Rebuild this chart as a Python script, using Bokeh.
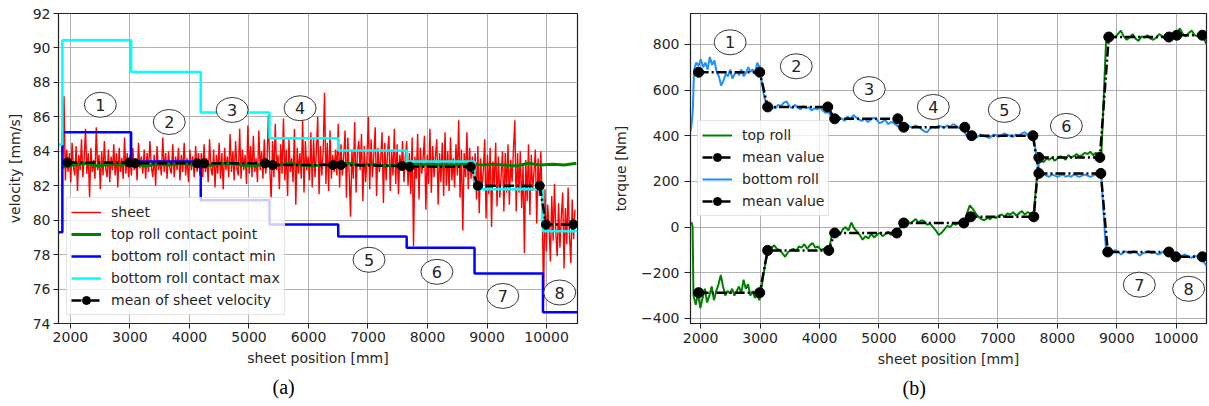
import numpy as np
from bokeh.plotting import figure
from bokeh.models import (ColumnDataSource, Range1d, FixedTicker, Legend,
                          LegendItem, Title)
from bokeh.layouts import row
from bokeh.embed import file_html
from bokeh.resources import INLINE
from bokeh.core.properties import value

FONT = "DejaVu Sans"
TXT = "#262626"

# ---------------- (a) velocity data ----------------
sheet_edges = [1870, 3000, 4200, 5350, 6500, 7650, 8800, 9950, 10500]
sheet_seg1 = [83.0, 87.2, 82.3, 84.1, 82.8, 83.9, 82.2, 84.5, 83.1, 82.6, 84.3, 81.7, 83.8, 82.9, 84.7, 82.5,
              83.6, 85.3, 82.7, 83.9, 81.3, 84.2, 82.8, 83.5, 82.4, 85.4, 82.9, 83.8, 81.8, 84.0, 82.6, 84.6,
              83.0, 82.5, 84.1, 82.2, 83.7, 82.9, 84.4, 82.6, 83.9, 81.9, 84.2, 82.8, 83.6, 82.4, 84.8, 82.7,
              83.9, 82.5]
sheet_seg2 = [83.8, 82.6, 84.2, 82.9, 83.6, 82.3, 84.5, 83.0, 83.7, 82.7, 84.1, 82.4, 83.9, 82.8, 84.6, 83.1,
              82.5, 83.8, 82.0, 84.3, 82.9, 83.5, 82.6, 84.8, 82.8, 83.9, 82.4, 84.0, 83.0, 82.7, 84.4, 82.5,
              83.7, 82.9, 84.2, 82.3, 83.8, 82.8, 84.5, 82.6, 83.6, 82.2, 84.1, 82.9, 83.7, 82.5, 84.3, 82.8,
              83.9, 82.6]
sheet_seg3 = [83.9, 82.5, 84.4, 82.8, 83.6, 82.2, 84.7, 83.0, 82.6, 84.1, 81.9, 83.8, 82.7, 84.5, 82.4, 83.9,
              81.8, 84.2, 82.9, 83.7, 82.5, 85.0, 82.8, 84.0, 82.3, 84.6, 83.0, 82.6, 85.3, 82.4, 84.1, 82.9,
              83.8, 82.1, 85.5, 82.7, 84.3, 82.5, 84.9, 82.8, 83.6, 82.2, 85.2, 82.9, 84.0, 82.4, 84.7, 82.7,
              83.5, 86.1]
sheet_seg4 = [83.0, 81.2, 84.6, 82.5, 85.6, 82.9, 83.8, 81.8, 84.4, 82.7, 85.9, 82.3, 84.1, 81.4, 84.7, 82.8,
              83.6, 82.2, 85.3, 80.9, 84.2, 82.7, 83.9, 82.4, 85.8, 81.6, 84.6, 82.9, 83.7, 82.3, 85.1, 81.9,
              84.8, 82.5, 83.9, 86.0, 81.5, 84.3, 82.6, 84.0, 87.4, 82.1, 84.5, 81.7, 85.2, 82.4, 83.8, 82.8,
              84.1, 82.6]
sheet_seg5 = [85.6, 81.9, 84.4, 82.6, 83.7, 85.2, 81.3, 84.8, 82.7, 80.2, 84.1, 82.4, 85.7, 81.6, 83.9, 84.6,
              82.9, 85.0, 81.1, 84.3, 82.2, 83.6, 86.0, 81.8, 84.7, 82.5, 83.8, 85.4, 81.4, 84.2, 82.8, 83.5,
              85.1, 81.0, 84.5, 82.3, 83.9, 84.9, 81.7, 84.0, 82.6, 85.3, 82.1, 84.4, 81.5, 83.8, 82.9, 84.6,
              82.2, 83.7]
sheet_seg6 = [84.6, 82.0, 83.9, 81.5, 84.8, 78.5, 83.7, 82.4, 85.0, 81.2, 84.2, 82.7, 83.6, 84.9, 80.6, 83.8,
              82.1, 85.3, 81.6, 84.3, 82.5, 83.7, 84.7, 80.9, 83.9, 82.2, 84.5, 81.4, 85.1, 82.0, 84.0, 81.7,
              84.8, 82.3, 83.6, 81.9, 84.4, 82.6, 85.8, 81.3, 84.1, 79.4, 83.9, 82.5, 85.1, 81.8, 84.2, 82.4,
              83.7, 82.1]
sheet_seg7 = [83.9, 81.2, 84.3, 80.4, 83.6, 81.8, 82.9, 84.7, 80.1, 83.8, 81.5, 84.2, 79.6, 83.4, 82.0, 84.5,
              80.8, 83.7, 81.3, 82.6, 84.0, 80.5, 83.9, 81.6, 84.4, 80.9, 83.5, 82.2, 84.1, 85.8, 80.5, 83.9,
              81.6, 84.0, 80.7, 83.2, 78.1, 83.5, 81.1, 84.4, 80.3, 83.8, 81.7, 82.8, 84.1, 79.8, 83.6, 81.4,
              84.0, 80.9]
sheet_seg8 = [75.3, 81.8, 78.2, 80.9, 79.6, 77.6, 81.4, 78.8, 82.1, 79.3, 77.9, 81.0, 78.4, 80.2, 81.6, 77.2,
              80.7, 78.6, 81.9, 79.1, 77.5, 81.2, 78.9, 80.6]
sheet_segments = [sheet_seg1, sheet_seg2, sheet_seg3, sheet_seg4, sheet_seg5, sheet_seg6, sheet_seg7, sheet_seg8]

top_roll_v = [83.05, 83.2, 83.3, 83.15, 83.25, 83.2, 83.3, 83.15, 83.25, 83.2, 83.3, 83.2, 83.15, 83.25,
              83.3, 83.2, 83.15, 83.25, 83.2, 83.3, 83.2, 83.15, 83.25, 83.2, 83.3, 83.2, 83.25, 83.15,
              83.2, 83.3, 83.2, 83.25, 83.15, 83.2, 83.3, 83.2, 83.25, 83.2, 83.15, 83.3, 83.2, 83.25,
              83.2, 83.3]

step_edges_a = [1800, 1865, 3020, 4190, 5345, 6500, 7650, 8790, 9940, 10520]
bottom_min_levels = [79.3, 85.1, 83.4, 81.15, 79.75, 79.05, 78.4, 76.9, 74.65]
bottom_max_levels = [84.4, 90.45, 88.6, 86.25, 84.75, 84.05, 83.4, 81.8, 79.35]

mean_sheet_x = [1950, 2990, 3090, 4130, 4248, 5272, 5400, 6413, 6547, 7570, 7700, 8728, 8846, 9886, 9990, 10450]
mean_sheet_y = [83.35, 83.35, 83.3, 83.3, 83.3, 83.3, 83.2, 83.2, 83.2, 83.15, 83.1, 83.1, 82.0, 82.0, 79.75, 79.75]

marks_a_x = [2503, 3661, 4718, 5859, 7017, 8158, 9265, 10221]
marks_a_y = [86.7, 85.7, 86.4, 86.5, 77.7, 77.0, 75.6, 75.8]
marks_labels = ["1", "2", "3", "4", "5", "6", "7", "8"]

# ---------------- (b) torque data ----------------
top_edges_b = [(1830, 1865), (1880, 2990), (3100, 4160), (4200, 5300), (5330, 6440), (6480, 7600),
               (7680, 8740), (8820, 10510)]
top_b_segments = [
    [15, 20, 5],
    [-300, -340, -290, -355, -310, -270, -330, -300, -260, -320, -280, -250, -210, -260, -300,
     -280, -290, -270, -300, -280, -260, -290, -230, -270, -250, -300, -280, -310, -300, -320],
    [-140, -110, -90, -80, -95, -100, -115, -130, -110, -100, -95, -105, -85, -90, -75, -95,
     -80, -70, -90, -85, -100, -95, -110, -100],
    [-45, -30, -20, -35, -10, 0, -15, 20, -5, -20, -35, -55, -40, -50, -30, -45, -35, -25, -40,
     -30, -20, -35, -15, -10],
    [-10, 5, 20, 30, 15, 25, 35, 20, 30, 25, 10, 15, 0, -15, -35, -25, -10, 5, 0, 15, 10, 20, 30, 25],
    [60, 95, 80, 60, 45, 35, 30, 40, 35, 45, 40, 50, 55, 45, 60, 55, 65, 50, 60, 70, 55, 65, 60, 55],
    [275, 290, 285, 300, 295, 305, 290, 300, 310, 305, 295, 315, 305, 310, 320, 310, 315, 325,
     320, 330, 315, 325, 320, 310],
    [810, 825, 840, 830, 845, 860, 835, 820, 830, 845, 825, 815, 835, 830, 840, 825, 820, 830,
     845, 835, 825, 840, 830, 835, 850, 870, 845, 835, 850, 860, 840, 835, 845, 830, 800],
]
bottom_edges_b = [(1830, 1870), (1890, 2990), (3070, 4150), (4180, 5300), (5320, 6440), (6460, 7600),
                  (7680, 8740), (8820, 10510)]
bottom_b_segments = [
    [420, 440, 470, 520],
    [690, 720, 705, 735, 700, 720, 690, 745, 710, 730, 680, 660, 620, 640, 670, 660, 690, 650,
     670, 680, 665, 690, 660, 675, 700, 680, 690, 670, 720, 700],
    [570, 530, 510, 525, 520, 535, 530, 545, 550, 530, 520, 535, 525, 515, 530, 520, 525, 510,
     520, 515, 525, 510, 500, 505],
    [490, 470, 460, 480, 475, 465, 485, 470, 490, 480, 470, 465, 475, 460, 470, 480, 470, 455,
     460, 470, 450, 460, 455, 445],
    [440, 445, 430, 450, 440, 435, 445, 440, 430, 420, 415, 430, 440, 435, 445, 440, 435, 445,
     440, 450, 445, 435, 430, 420],
    [405, 395, 400, 390, 395, 405, 400, 395, 390, 400, 405, 395, 400, 410, 405, 400, 395, 405,
     400, 410, 415, 405, 400, 395],
    [260, 240, 230, 225, 220, 230, 225, 220, 225, 230, 220, 225, 220, 230, 225, 220, 225, 230,
     225, 220, 225, 230, 225, 220],
    [-105, -110, -115, -100, -110, -120, -105, -110, -115, -105, -110, -125, -115, -110, -105,
     -115, -110, -120, -115, -105, -110, -115, -125, -120, -130, -125, -120, -130, -135, -125,
     -130, -140, -150, -170],
]
top_mean_x = [1967, 2995, 3128, 4156, 4255, 5300, 5416, 6428, 6544, 7605, 7690, 8716, 8866, 9878, 10010, 10440]
top_mean_y = [-287, -287, -102, -102, -26, -26, 18, 18, 45, 45, 305, 305, 832, 832, 840, 840]
bottom_mean_x = [1967, 2995, 3128, 4139, 4255, 5317, 5416, 6444, 6560, 7590, 7690, 8733, 8849, 9877, 9993, 10441]
bottom_mean_y = [678, 678, 526, 526, 474, 474, 437, 437, 400, 400, 235, 235, -109, -109, -130, -130]

marks_b_x = [2497, 3609, 4836, 5914, 7108, 8153, 9380, 10209]
marks_b_y = [809, 704, 604, 526, 513, 443, -252, -270]


def seg_series(edges, segments):
    xs, ys = [], []
    for (a, b), vals in zip(edges, segments):
        xs.extend(np.linspace(a, b, len(vals)))
        ys.extend(vals)
    return xs, ys


def style(p, xlabel, ylabel, tick_out, standoff, ylab_standoff):
    p.outline_line_color = "#222222"
    p.outline_line_width = 1.2
    p.background_fill_color = "white"
    p.border_fill_color = "white"
    for ax in (p.xaxis[0], p.yaxis[0]):
        ax.major_label_text_font = FONT
        ax.major_label_text_font_size = "14px"
        ax.major_label_text_color = TXT
        ax.axis_label_text_font = FONT
        ax.axis_label_text_font_size = "14px"
        ax.axis_label_text_font_style = "normal"
        ax.axis_label_text_color = TXT
        ax.major_tick_in = 0
        ax.major_tick_out = tick_out
        ax.minor_tick_in = 0
        ax.minor_tick_out = 0
        ax.axis_line_color = "#222222"
        ax.major_tick_line_color = "#222222"
        ax.major_label_standoff = standoff
    p.xaxis.axis_label = xlabel
    p.yaxis.axis_label = ylabel
    p.xaxis.axis_label_standoff = 5
    p.yaxis.axis_label_standoff = ylab_standoff
    p.xaxis.ticker = FixedTicker(ticks=[2000, 3000, 4000, 5000, 6000, 7000, 8000, 9000, 10000])
    for g in (p.xgrid[0], p.ygrid[0]):
        g.grid_line_color = "#b0b0b0"
        g.grid_line_width = 1


def add_marks(p, xs, ys):
    src = ColumnDataSource(dict(x=xs, y=ys, t=marks_labels))
    p.ellipse("x", "y", width=32, height=25, width_units="screen", height_units="screen",
              source=src, fill_color="white", line_color="#222222", line_width=0.9)
    p.text("x", "y", text="t", source=src, text_align="center", text_baseline="middle",
           text_font_size="16px", text_color="#222222", text_font=value(FONT))


def style_legend(lg):
    lg.label_text_font = FONT
    lg.label_text_font_size = "14px"
    lg.label_text_color = TXT
    lg.glyph_width = 30
    lg.glyph_height = 20
    lg.label_height = 20
    lg.label_standoff = 10
    lg.spacing = 2
    lg.padding = 4
    lg.margin = 8
    lg.border_line_color = "#cccccc"
    lg.border_line_width = 1
    lg.background_fill_alpha = 0.8


def panel_title(text, offset):
    return Title(text=text, align="left", offset=offset, standoff=11, text_font="Liberation Serif",
                 text_font_size="20px", text_font_style="normal", text_color="black")


# ---------------- figure (a) ----------------
p1 = figure(width=610, height=406, x_range=Range1d(1800, 10520), y_range=Range1d(74, 92),
            output_backend="svg", toolbar_location=None,
            min_border_left=58, min_border_right=33, min_border_top=13, min_border_bottom=83)
style(p1, "sheet position [mm]", "velocity [mm/s]", 5, 3, 7)
p1.yaxis.ticker = FixedTicker(ticks=list(range(74, 93, 2)))

sx, sy = [], []
for i, vals in enumerate(sheet_segments):
    sx.extend(np.linspace(sheet_edges[i], sheet_edges[i + 1], len(vals), endpoint=False))
    sy.extend(vals)
r_sheet = p1.line(sx, sy, line_color="#ff0000", line_width=1.4)
r_top = p1.line(np.linspace(1850, 10500, len(top_roll_v)), top_roll_v, line_color="#008000", line_width=3)
r_bmin = p1.step(step_edges_a, bottom_min_levels + [bottom_min_levels[-1]], mode="after",
                 line_color="#0000ff", line_width=2.5)
r_bmax = p1.step(step_edges_a, bottom_max_levels + [bottom_max_levels[-1]], mode="after",
                 line_color="#00ffff", line_width=2.5)
r_ml = p1.line(mean_sheet_x, mean_sheet_y, line_color="black", line_width=2.5, line_dash="10 3 2 3")
r_ms = p1.scatter(mean_sheet_x, mean_sheet_y, size=9, fill_color="black", line_color="black")
add_marks(p1, marks_a_x, marks_a_y)

lg1 = Legend(items=[LegendItem(label="sheet", renderers=[r_sheet]),
                    LegendItem(label="top roll contact point", renderers=[r_top]),
                    LegendItem(label="bottom roll contact min", renderers=[r_bmin]),
                    LegendItem(label="bottom roll contact max", renderers=[r_bmax]),
                    LegendItem(label="mean of sheet velocity", renderers=[r_ml, r_ms])],
             location="bottom_left")
style_legend(lg1)
p1.add_layout(lg1)
p1.add_layout(panel_title("(a)", 214), "below")

# ---------------- figure (b) ----------------
p2 = figure(width=599, height=406, x_range=Range1d(1830, 10510), y_range=Range1d(-422, 935),
            output_backend="svg", toolbar_location=None,
            min_border_left=73, min_border_right=3, min_border_top=12, min_border_bottom=81)
style(p2, "sheet position [mm]", "torque [Nm]", 5, 4, 9)
p2.yaxis.major_tick_out = 6
p2.yaxis.major_label_standoff = 5
p2.yaxis.ticker = FixedTicker(ticks=[-400, -200, 0, 200, 400, 600, 800])
p2.yaxis.major_label_overrides = {-400: "\u2212400", -200: "\u2212200"}

tx, ty = seg_series(top_edges_b, top_b_segments)
bx, by = seg_series(bottom_edges_b, bottom_b_segments)
g_top = p2.line(tx, ty, line_color="#008000", line_width=2)
g_tml = p2.line(top_mean_x, top_mean_y, line_color="black", line_width=2.5, line_dash="10 3 2 3")
g_tms = p2.scatter(top_mean_x, top_mean_y, size=10, fill_color="black", line_color="black")
g_bot = p2.line(bx, by, line_color="#1e90ff", line_width=2)
g_bml = p2.line(bottom_mean_x, bottom_mean_y, line_color="black", line_width=2.5, line_dash="10 3 2 3")
g_bms = p2.scatter(bottom_mean_x, bottom_mean_y, size=10, fill_color="black", line_color="black")
add_marks(p2, marks_b_x, marks_b_y)

lg2 = Legend(items=[LegendItem(label="top roll", renderers=[g_top]),
                    LegendItem(label="mean value", renderers=[g_tml, g_tms]),
                    LegendItem(label="bottom roll", renderers=[g_bot]),
                    LegendItem(label="mean value", renderers=[g_bml, g_bms])],
             location="center_left")
style_legend(lg2)
lg2.margin = 7
p2.add_layout(lg2)
p2.add_layout(panel_title("(b)", 212), "below")

layout = row(p1, p2)
open("out.html", "w").write(file_html(layout, INLINE))
